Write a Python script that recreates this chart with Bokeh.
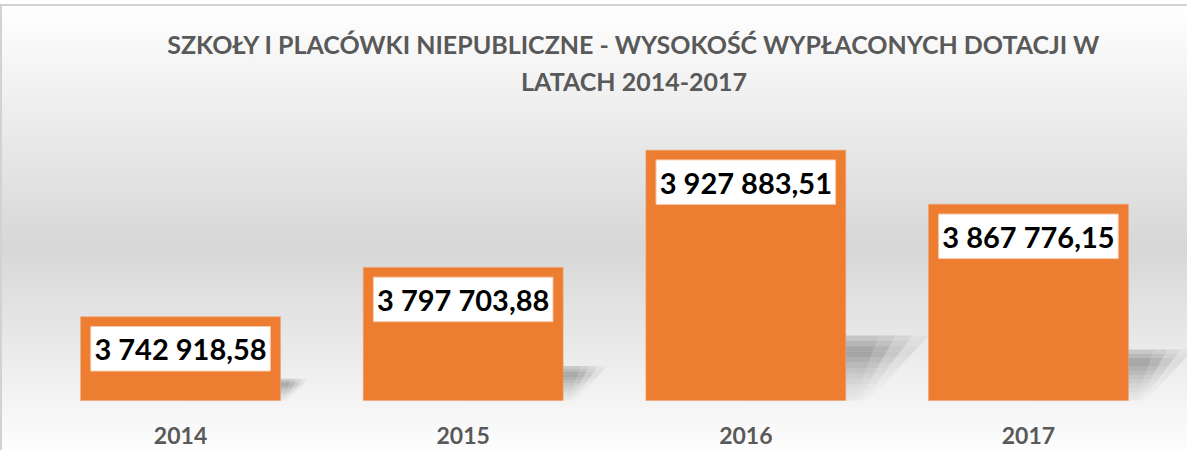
from bokeh.plotting import figure
from bokeh.models import ColumnDataSource, FactorRange, Range1d
from bokeh.core.properties import value
from bokeh.embed import file_html
from bokeh.resources import INLINE

# ---- data ----
years = ["2014", "2015", "2016", "2017"]
amounts = [3742918.58, 3797703.88, 3927883.51, 3867776.15]
title_lines = ["SZKOŁY I PLACÓWKI NIEPUBLICZNE - WYSOKOŚĆ WYPŁACONYCH DOTACJI W",
               "LATACH 2014-2017"]
value_base = 3650000        # value axis minimum (bar baseline)
value_per_px = 1110.0       # value axis scale

# ---- layout constants ----
W, H = 1187, 450
BASE_PX = 50                # baseline distance from canvas bottom
BORDER_LEFT = 21
FRAME_W = W - BORDER_LEFT
UNIT_PX = 287.0             # px per category
BAR_W = 0.707
ORANGE = "#ED7D31"
GREY_TXT = "#595959"

y_start = value_base - BASE_PX * value_per_px
y_end = value_base + (H - BASE_PX) * value_per_px

def fmt(v):
    return f"{v:,.2f}".replace(",", " ").replace(".", ",")

labels = [fmt(v) for v in amounts]
pad_units = FRAME_W / UNIT_PX - len(years)

p = figure(width=W, height=H,
           x_range=FactorRange(*years, range_padding=pad_units,
                               range_padding_units="absolute"),
           y_range=Range1d(y_start, y_end),
           output_backend="svg", toolbar_location=None,
           min_border_left=BORDER_LEFT, min_border_right=0,
           min_border_top=0, min_border_bottom=0)
p.border_fill_color = None
p.background_fill_color = None
p.outline_line_color = None
p.grid.visible = False
p.axis.visible = False
p.styles = {
    "background": ("linear-gradient(#d2d2d2,#d2d2d2) 0px 4px / 100% 2px no-repeat, "
                   "linear-gradient(#d2d2d2,#d2d2d2) 0px 4px / 2px 100% no-repeat, "
                   "linear-gradient(to bottom, #ffffff 1%, #d7d7d7 55%, #fdfdfd 100%)")
}

# ---- soft shadows (behind bars) ----
sx, sy, sa = [], [], []
N, M = 12, 5
fx = [1.0, 1.0, 0.8, 0.5, 0.22]
for i, v in enumerate(amounts):
    Hpx = (v - value_base) / value_per_px
    h = 0.26 * Hpx
    cx = i + 0.5
    R = cx + BAR_W / 2
    for j in range(N):
        t0, t1 = j / N, (j + 1) / N
        tm = (t0 + t1) / 2
        if tm < 0.75:
            fy = 0.15 + 0.85 * (tm / 0.75) ** 1.5
        else:
            fy = 1.0 - 0.65 * ((tm - 0.75) / 0.25)
        r0 = (0.35 + 0.95 * t0) * h
        r1 = (0.35 + 0.95 * t1) * h
        y0 = value_base + t0 * h * value_per_px
        y1 = value_base + t1 * h * value_per_px
        for k in range(M):
            a0, a1 = k / M, (k + 1) / M
            xl0 = cx if k == 0 else R + r0 * a0 / UNIT_PX
            xl1 = cx if k == 0 else R + r1 * a0 / UNIT_PX
            xr0 = R + r0 * a1 / UNIT_PX
            xr1 = R + r1 * a1 / UNIT_PX
            sx.append([xl0, xr0, xr1, xl1])
            sy.append([y0, y0, y1, y1])
            sa.append(0.32 * fy * fx[k])
p.patches(xs="xs", ys="ys", fill_alpha="a", fill_color="black", line_color=None,
          source=ColumnDataSource(dict(xs=sx, ys=sy, a=sa)))

# ---- bars ----
src = ColumnDataSource(dict(x=years, top=amounts, lab=labels,
                            ly=[v - 32 * value_per_px for v in amounts],
                            base=[value_base] * len(years)))
p.vbar(x="x", top="top", bottom=value_base, width=BAR_W, source=src,
       fill_color=ORANGE, line_color="#f0a070", line_width=1, line_alpha=0.6)

# ---- value labels ----
p.rect(x="x", y="ly", width=BAR_W - 20.6 / UNIT_PX, height=44.5,
       height_units="screen", source=src, fill_color="white",
       line_color="#f8cbad", line_width=1)
p.text(x="x", y="ly", text="lab", source=src, text_align="center",
       text_baseline="middle", text_font=value("Lato"), text_font_style="bold",
       text_font_size="29px", text_color="black")

# ---- category labels ----
p.text(x="x", y="base", text="x", source=src, y_offset=35, text_align="center",
       text_baseline="middle", text_font=value("Lato"), text_font_style="bold",
       text_font_size="23px", text_color=GREY_TXT)

# ---- title ----
title_x = len(years) / 2 + 30 / UNIT_PX
p.text(x=[title_x, title_x], y=[y_end, y_end], text=title_lines,
       y_offset=[43, 80], text_align="center", text_baseline="middle",
       text_font=value("Lato"), text_font_style="bold", text_font_size="25px",
       text_color=GREY_TXT)

open("out.html", "w").write(file_html(p, INLINE))
